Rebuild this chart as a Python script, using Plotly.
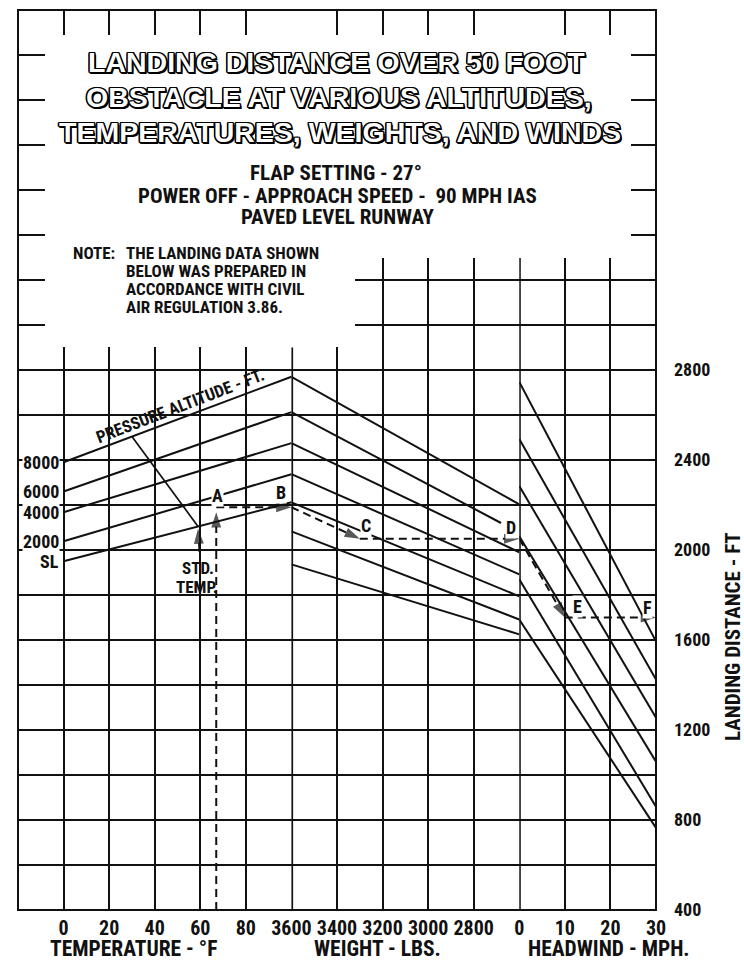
import plotly.graph_objects as go

# ---------------- data ----------------
temp_range = [-20, 100]
weight_range = [3600, 2600]
wind_range = [0, 30]
dist_range = [400, 4400]

temp_tick_vals = [0, 20, 40, 60, 80]
weight_tick_vals = [3600, 3400, 3200, 3000, 2800]
wind_tick_vals = [0, 10, 20, 30]
dist_label_vals = [400, 800, 1200, 1600, 2000, 2400, 2800]
dist_grid_vals = list(range(400, 4401, 200))

# temperature panel: pressure altitude lines (0 F -> 100 F)
altitude_names = ["8000", "6000", "4000", "2000", "SL"]
altitude_temp = [0, 100]
altitude_dist_0F = [2390, 2260, 2168, 2039, 1950]
altitude_dist_100F = [2770, 2613, 2475, 2337, 2212]

# standard temperature line (8000 ft -> SL)
std_temp_F = [30, 59]
std_temp_dist = [2504, 2105]
std_arrow_F = [59.6, 59]
std_arrow_dist = [1991, 2095]

# weight panel guide lines
weight_start_lbs = 3600
weight_dist_start = [2770, 2613, 2475, 2337, 2212, 2083, 1936]
weight_end_lbs = [2600, 2680, 2600, 2600, 2600, 2600, 2600]
weight_dist_end = [2203, 2120, 1990, 1892, 1794, 1691, 1625]

# headwind panel guide lines
wind_start_mph = 0
wind_end_mph = 30
wind_dist_start = [2747, 2493, 2284, 2061, 1870, 1691]
wind_dist_end = [1594, 1424, 1255, 1059, 859, 765]

# worked example A-B-C-D-E-F
ex_temp_F = 67
ex_dist_A_arrow = 2168
ex_dist_B = 2190
ex_weight_C = 3300
ex_dist_C = 2050
ex_wind_E = 10
ex_dist_E = 1700

# ---------------- styling ----------------
NARROW = "Roboto Condensed, Open Sans Condensed, DejaVu Sans Condensed, sans-serif"
WIDE = "Liberation Sans, Arial, sans-serif"
INK = "#111111"
LINE = dict(color=INK, width=2)
DASH = dict(color=INK, width=2, dash="8px,5px")
ARROW = dict(symbol="arrow", angleref="previous", color=INK, line=dict(width=0))
AS = 16  # arrowhead marker size

# plot area in page pixels (page body margin removed by the post script)
L, R, T, B = 18, 656, 10, 910
W, H = 744, 961


def P(px, py):
    return (px - L) / (R - L), (B - py) / (B - T)


fig = go.Figure()

for a, b in zip(altitude_dist_0F, altitude_dist_100F):
    fig.add_trace(go.Scatter(x=altitude_temp, y=[a, b], mode="lines", line=LINE,
                             xaxis="x", yaxis="y", hoverinfo="skip"))
fig.add_trace(go.Scatter(x=std_temp_F, y=std_temp_dist, mode="lines", line=dict(color=INK, width=1.7),
                         xaxis="x", yaxis="y", hoverinfo="skip"))
fig.add_trace(go.Scatter(x=std_arrow_F, y=std_arrow_dist, mode="lines+markers",
                         line=dict(color=INK, width=1.7), marker=dict(size=[0, AS], **ARROW),
                         xaxis="x", yaxis="y", hoverinfo="skip"))

for a, xe, b in zip(weight_dist_start, weight_end_lbs, weight_dist_end):
    fig.add_trace(go.Scatter(x=[weight_start_lbs, xe], y=[a, b], mode="lines", line=LINE,
                             xaxis="x2", yaxis="y", hoverinfo="skip"))

for a, b in zip(wind_dist_start, wind_dist_end):
    fig.add_trace(go.Scatter(x=[wind_start_mph, wind_end_mph], y=[a, b], mode="lines", line=LINE,
                             xaxis="x3", yaxis="y", hoverinfo="skip"))

# example path (dashed, with arrowheads)
fig.add_trace(go.Scatter(x=[ex_temp_F, ex_temp_F], y=[dist_range[0], ex_dist_A_arrow],
                         mode="lines+markers", line=DASH, marker=dict(size=[0, AS], **ARROW),
                         xaxis="x", yaxis="y", hoverinfo="skip"))
fig.add_trace(go.Scatter(x=[ex_temp_F, temp_range[1]], y=[ex_dist_B, ex_dist_B],
                         mode="lines+markers", line=DASH, marker=dict(size=[0, AS], **ARROW),
                         xaxis="x", yaxis="y", hoverinfo="skip"))
fig.add_trace(go.Scatter(x=[weight_range[0], ex_weight_C, weight_range[1]], y=[ex_dist_B, ex_dist_C, ex_dist_C],
                         mode="lines+markers", line=DASH, marker=dict(size=[0, AS, AS], **ARROW),
                         xaxis="x2", yaxis="y", hoverinfo="skip"))
fig.add_trace(go.Scatter(x=[wind_range[0], ex_wind_E, wind_range[1]], y=[ex_dist_C, ex_dist_E, ex_dist_E],
                         mode="lines+markers", line=DASH, marker=dict(size=[0, AS, AS], **ARROW),
                         xaxis="x3", yaxis="y", hoverinfo="skip"))

TICKFONT = dict(family=NARROW, size=20, color=INK, weight="bold")
grid = dict(showgrid=True, gridcolor=INK, gridwidth=1.6, zeroline=False, showline=False,
            ticks="", tickmode="array", fixedrange=True, automargin=False)

fig.update_layout(
    width=W, height=H,
    margin=dict(l=L, r=W - R, t=T, b=H - B, pad=0, autoexpand=False),
    paper_bgcolor="white", plot_bgcolor="white",
    showlegend=False,
    xaxis=dict(domain=[0, 6 / 14], range=temp_range, tickvals=temp_tick_vals, anchor="y",
               tickfont=TICKFONT, tickangle=0, ticklabelstandoff=4, **grid),
    xaxis2=dict(domain=[6 / 14, 11 / 14], range=weight_range, tickvals=weight_tick_vals, anchor="y",
                tickfont=TICKFONT, tickangle=0, ticklabelstandoff=4, **grid),
    xaxis3=dict(domain=[11 / 14, 1], range=wind_range, tickvals=wind_tick_vals, anchor="y",
                tickfont=TICKFONT, tickangle=0, ticklabelstandoff=4, **grid),
    yaxis=dict(domain=[0, 1], range=dist_range, side="right", anchor="x3",
               tickvals=dist_grid_vals,
               ticktext=[str(v) if v in dist_label_vals else "" for v in dist_grid_vals],
               tickfont=dict(family=NARROW, size=18, color=INK, weight="bold"),
               ticklabelstandoff=17, **grid),
)

shapes = [
    dict(type="line", xref="x2", yref="y", x0=weight_range[0], x1=weight_range[0], y0=400, y1=2900,
         line=dict(color=INK, width=3.4), layer="between"),
    dict(type="line", xref="x3", yref="y", x0=wind_range[0], x1=wind_range[0], y0=400, y1=3300,
         line=dict(color=INK, width=3.0), layer="between"),
]
# white panels hiding the grid behind the titles
x0, y0 = P(45, 258)
x1, y1 = P(631, 35)
shapes.append(dict(type="rect", xref="paper", yref="paper", x0=x0, x1=x1, y0=y0, y1=y1,
                   fillcolor="white", line=dict(width=0), layer="above"))
x0, y0 = P(45, 347)
x1, y1 = P(355, 256)
shapes.append(dict(type="rect", xref="paper", yref="paper", x0=x0, x1=x1, y0=y0, y1=y1,
                   fillcolor="white", line=dict(width=0), layer="above"))
shapes.append(dict(type="rect", xref="paper", yref="paper", x0=0, x1=1, y0=0, y1=1,
                   line=dict(color=INK, width=2), layer="above"))
fig.update_layout(shapes=shapes)

ann = []


def text_px(txt, px, py, size, family=NARROW, xanchor="center", angle=0, color=INK, shadow=None):
    xp, yp = P(px, py)
    f = dict(family=family, size=size, color=color, weight="bold")
    if shadow:
        f["shadow"] = shadow
    ann.append(dict(text=txt, x=xp, y=yp, xref="paper", yref="paper", showarrow=False,
                    xanchor=xanchor, yanchor="middle", textangle=angle, font=f))


OUTLINE = ("-1.2px -1.2px 0 #000, 1.2px -1.2px 0 #000, -1.2px 1.2px 0 #000, 1.2px 1.2px 0 #000, "
           "0 -1.5px 0 #000, 0 1.5px 0 #000, -1.5px 0 0 #000, 1.5px 0 0 #000, 2px 2px 0 #000")
text_px("LANDING DISTANCE OVER 50 FOOT", 336, 62, 28.5, WIDE, color="white", shadow=OUTLINE)
text_px("OBSTACLE AT VARIOUS ALTITUDES,", 339, 97, 28.5, WIDE, color="white", shadow=OUTLINE)
text_px("TEMPERATURES, WEIGHTS, AND WINDS", 340, 132, 28.5, WIDE, color="white", shadow=OUTLINE)

text_px("FLAP SETTING - 27°", 336, 173, 21)
text_px("POWER OFF - APPROACH SPEED -  90 MPH IAS", 337, 196, 21)
text_px("PAVED LEVEL RUNWAY", 338, 217, 21)

text_px("NOTE:", 71, 253, 17, xanchor="left")
for i, line in enumerate(["THE LANDING DATA SHOWN", "BELOW WAS PREPARED IN",
                          "ACCORDANCE WITH CIVIL", "AIR REGULATION 3.86."]):
    text_px(line, 124, 253 + i * 18, 17, xanchor="left")

text_px("TEMPERATURE - °F", 133, 948, 21.5)
text_px("WEIGHT - LBS.", 377, 948, 21.5)
text_px("HEADWIND - MPH.", 609, 948, 21.5)
text_px("LANDING DISTANCE - FT", 733, 636, 21, angle=-90)

text_px("STD.", 198, 568, 17)
text_px("TEMP.", 197, 587, 17)

# altitude labels at the start of each altitude line
for name, a in zip(altitude_names, altitude_dist_0F):
    ann.append(dict(text=name, x=altitude_temp[0], y=a, xref="x", yref="y", showarrow=False,
                    xanchor="right", yanchor="middle", xshift=-4, bgcolor="white", borderpad=0,
                    font=dict(family=NARROW, size=18, color=INK, weight="bold")))

ann.append(dict(text="PRESSURE ALTITUDE - FT.", x=51, y=2640, xref="x", yref="y", showarrow=False,
                textangle=-21, font=dict(family=NARROW, size=17, color=INK, weight="bold")))

PT = dict(family=NARROW, size=18, color=INK, weight="bold")
point_labels = [
    ("A", "x", ex_temp_F, ex_dist_B, 1, 12),
    ("B", "x", temp_range[1], ex_dist_B, -10, 15),
    ("C", "x2", ex_weight_C, ex_dist_C, 6, 13),
    ("D", "x2", weight_range[1], ex_dist_C, -8, 11),
    ("E", "x3", ex_wind_E, ex_dist_E, 13, 11),
    ("F", "x3", wind_range[1], ex_dist_E, -8, 10),
]
for t, xr, xv, yv, dx, dy in point_labels:
    ann.append(dict(text=t, x=xv, y=yv, xref=xr, yref="y", showarrow=False, xshift=dx, yshift=dy,
                    bgcolor="white", borderpad=0, font=PT))

fig.update_layout(annotations=ann)
fig.write_html("out.html", config={"displayModeBar": False},
               post_script="document.body.style.margin='0px';document.body.style.overflow='hidden';")
